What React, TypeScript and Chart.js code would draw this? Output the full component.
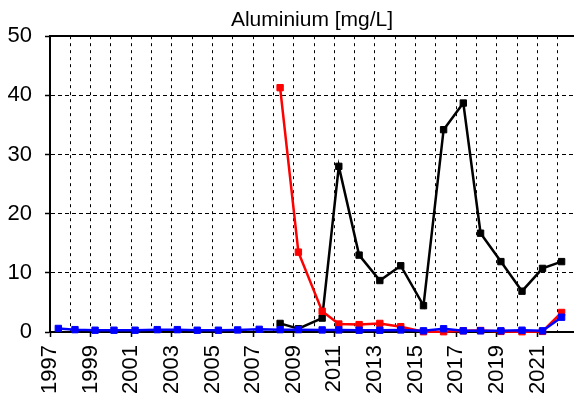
import React, { useEffect, useRef } from "react";
import { Chart, registerables } from "chart.js";

Chart.register(...registerables);

const titleText = "Aluminium [mg/L]";
const yearMin = 1997;
const yearMax = 2022.8;

const blueDates = [
  1997.41, 1998.23, 1999.22, 2000.15, 2001.19, 2002.28, 2003.27, 2004.25, 2005.29,
  2006.24, 2007.3, 2008.33, 2009.23, 2010.4, 2011.22, 2012.22, 2013.24, 2014.27,
  2015.39, 2016.38, 2017.35, 2018.2, 2019.2, 2020.24, 2021.25, 2022.19,
];
const blueValues = [
  0.6, 0.4, 0.3, 0.3, 0.3, 0.4, 0.4, 0.3, 0.3,
  0.35, 0.45, 0.4, 0.4, 0.35, 0.35, 0.3, 0.3, 0.35,
  0.2, 0.55, 0.2, 0.2, 0.2, 0.3, 0.2, 2.5,
];

const recentDates = [
  2008.33, 2009.23, 2010.4, 2011.22, 2012.22, 2013.24, 2014.27, 2015.39,
  2016.38, 2017.35, 2018.2, 2019.2, 2020.24, 2021.25, 2022.19,
];
const redValues = [41.3, 13.5, 3.5, 1.35, 1.25, 1.45, 0.9, 0.05, 0.05, 0.2, 0.25, 0.1, 0.05, 0.1, 3.3];
const blackValues = [1.45, 0.55, 2.35, 28.0, 13.0, 8.7, 11.2, 4.45, 34.2, 38.7, 16.7, 11.9, 6.9, 10.75, 11.9];

const yTicks = [0, 10, 20, 30, 40, 50];

const FONT = "'Liberation Sans', Arial, sans-serif";

function toPoints(xs: number[], ys: number[]) {
  return xs.map((x, i) => ({ x, y: ys[i] }));
}

function series(label: string, color: string, xs: number[], ys: number[]) {
  return {
    label,
    data: toPoints(xs, ys),
    borderColor: color,
    backgroundColor: color,
    borderWidth: 2.5,
    pointStyle: "rect" as const,
    pointRadius: 4.5,
    pointBorderWidth: 1,
    pointBackgroundColor: color,
    pointBorderColor: color,
    tension: 0,
    clip: false as const,
  };
}

export default function App() {
  const ref = useRef<HTMLCanvasElement | null>(null);
  useEffect(() => {
    if (!ref.current) return;
    const chart = new Chart(ref.current, {
      type: "line",
      data: {
        datasets: [
          series("blue", "#0000ff", blueDates, blueValues),
          series("red", "#ff0000", recentDates, redValues),
          series("black", "#000000", recentDates, blackValues),
        ],
      },
      options: {
        animation: false,
        responsive: false,
        maintainAspectRatio: false,
        layout: { autoPadding: false, padding: { left: 0, right: 0, top: 0, bottom: 0 } },
        plugins: {
          legend: { display: false },
          tooltip: { enabled: false },
          title: {
            display: true,
            text: titleText,
            color: "#000",
            fullSize: false,
            font: { family: FONT, size: 21, weight: "normal" as any, lineHeight: 1.2 },
            padding: { top: 8, bottom: 3 },
          },
        },
        scales: {
          x: {
            type: "linear",
            position: "bottom",
            min: yearMin,
            max: yearMax,
            afterFit: (s: any) => {
              s.height = 69;
              s.paddingLeft = 0;
              s.paddingRight = 0;
            },
            ticks: {
              stepSize: 1,
              includeBounds: false,
              autoSkip: false,
              minRotation: 90,
              maxRotation: 90,
              padding: 8,
              color: "#000",
              font: { family: FONT, size: 22 },
              callback: (v: any) => {
                const n = Math.round(Number(v));
                return (n - yearMin) % 2 === 0 ? String(n) : "";
              },
            },
            grid: {
              color: "#000",
              lineWidth: 1,
              tickLength: 5,
              tickWidth: 1.5,
              tickBorderDash: [],
              tickColor: (ctx: any) => {
                const n = Math.round(Number(ctx.tick?.value));
                return (n - yearMin) % 2 === 0 ? "#000" : "rgba(0,0,0,0)";
              },
            },
            border: { display: true, color: "#000", width: 2, dash: [3, 4] },
          },
          x2: {
            type: "linear",
            position: "top",
            min: yearMin,
            max: yearMax,
            afterFit: (s: any) => {
              s.height = 0;
              s.paddingLeft = 0;
              s.paddingRight = 0;
            },
            ticks: { display: false },
            grid: { display: false, drawTicks: false },
            border: { display: true, color: "#000", width: 2 },
          },
          y: {
            type: "linear",
            min: 0,
            max: 50,
            afterFit: (s: any) => {
              s.width = 50;
              s.paddingTop = 0;
              s.paddingBottom = 0;
            },
            afterBuildTicks: (s: any) => {
              s.ticks = yTicks.map((v) => ({ value: v }));
            },
            ticks: {
              stepSize: 10,
              padding: 13,
              color: "#000",
              font: { family: FONT, size: 22 },
              callback: (v: any) => String(v),
            },
            grid: {
              color: "#000",
              lineWidth: 1,
              tickLength: 5,
              tickWidth: 1.5,
              tickBorderDash: [],
              tickColor: "#000",
            },
            border: { display: true, color: "#000", width: 2, dash: [4, 3] },
          },
        },
      },
    });
    return () => chart.destroy();
  }, []);
  return (
    <div style={{ position: "fixed", left: 0, top: 0, width: 574, height: 401, background: "#fff" }}>
      <canvas ref={ref} width={574} height={401} style={{ display: "block" }} />
    </div>
  );
}
